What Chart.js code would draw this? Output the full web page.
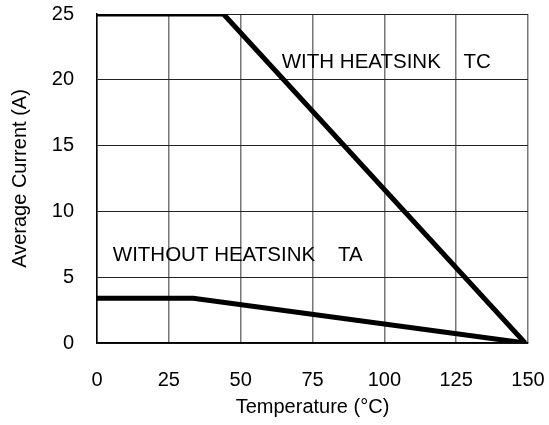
<!DOCTYPE html>
<html>
<head>
<meta charset="utf-8">
<script src="https://cdn.jsdelivr.net/npm/chart.js@4/dist/chart.umd.min.js"></script>
<style>
html,body{margin:0;padding:0;background:#fff;}
#wrap{width:549px;height:425px;}
</style>
</head>
<body>
<div id="wrap"><canvas id="c" width="549" height="425"></canvas></div>
<script>
// Data
const withHeatsinkX = [0, 44, 149];
const withHeatsinkY = [25, 25, 0];
const withoutHeatsinkX = [0, 33.5, 149];
const withoutHeatsinkY = [3.4, 3.4, 0];
const xTicks = [0, 25, 50, 75, 100, 125, 150];
const yTicks = [0, 5, 10, 15, 20, 25];
const labelTexts = ["WITH HEATSINK    TC", "WITHOUT HEATSINK    TA"];
const labelX = [64.3, 5.5];
const labelY = [21.36, 6.64];

const FONT = "'Liberation Sans', Arial, Helvetica, sans-serif";

const pts = (xs, ys) => xs.map((x, i) => ({x: x, y: ys[i]}));

const annotatePlugin = {
  id: 'annot',
  afterDatasetsDraw(chart) {
    const ctx = chart.ctx;
    const xs = chart.scales.x, ys = chart.scales.y;
    ctx.save();
    ctx.font = "20.5px " + FONT;
    ctx.fillStyle = '#000';
    ctx.textAlign = 'left';
    ctx.textBaseline = 'middle';
    labelTexts.forEach((t, i) => {
      ctx.fillText(t, xs.getPixelForValue(labelX[i]), ys.getPixelForValue(labelY[i]));
    });
    ctx.restore();
  }
};

new Chart(document.getElementById('c'), {
  type: 'line',
  data: {
    datasets: [
      { data: pts(withHeatsinkX, withHeatsinkY), borderColor: '#000', borderWidth: 5, pointRadius: 0, fill: false, tension: 0 },
      { data: pts(withoutHeatsinkX, withoutHeatsinkY), borderColor: '#000', borderWidth: 5, pointRadius: 0, fill: false, tension: 0 }
    ]
  },
  options: {
    responsive: false,
    animation: false,
    devicePixelRatio: 1,
    layout: { padding: { top: 14, right: 21, left: 8, bottom: 6 } },
    plugins: { legend: { display: false }, tooltip: { enabled: false } },
    scales: {
      x: {
        type: 'linear', min: 0, max: 150,
        afterBuildTicks: s => { s.ticks = xTicks.map(v => ({value: v})); },
        afterFit: s => { s.height = 425 - 343 - 6; s.paddingLeft = 0; s.paddingRight = 0; },
        ticks: { color: '#000', font: { size: 20, family: FONT }, padding: 25, maxRotation: 0, autoSkip: false },
        grid: { color: '#777', lineWidth: 1.5, drawTicks: false },
        border: { color: '#000', width: 1.5 },
        title: { display: true, text: 'Temperature (°C)', color: '#000', font: { size: 20, family: FONT }, padding: { top: 2, bottom: 0 } }
      },
      y: {
        type: 'linear', min: 0, max: 25,
        afterBuildTicks: s => { s.ticks = yTicks.map(v => ({value: v})); },
        afterFit: s => { s.width = 97 - 8; s.paddingTop = 0; s.paddingBottom = 0; },
        ticks: { color: '#000', font: { size: 20, family: FONT }, padding: 23 },
        grid: { color: '#222', lineWidth: 1, drawTicks: false },
        border: { color: '#000', width: 1.5 },
        title: { display: true, text: 'Average Current (A)', color: '#000', font: { size: 20, family: FONT }, padding: { top: 0, bottom: 0 } }
      }
    }
  },
  plugins: [annotatePlugin]
});
</script>
</body>
</html>
